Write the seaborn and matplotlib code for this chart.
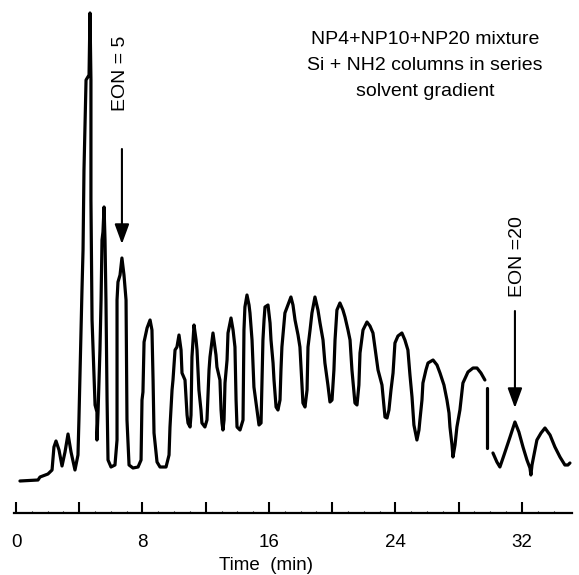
import numpy as np
import pandas as pd
import seaborn as sns
import matplotlib
matplotlib.use("Agg")
import matplotlib.pyplot as plt

# chromatogram
# time in min, detector response in arbitrary units (0 = starting baseline)
time_main = [0.25, 1.39, 1.52, 2.02, 2.28, 2.40, 2.53, 2.72, 2.91, 3.10, 3.29, 3.48, 3.73, 3.92,
             3.98, 4.11, 4.17, 4.24, 4.30, 4.43, 4.62, 4.68, 4.74, 4.74, 4.81, 5.00, 5.12, 5.12,
             5.19, 5.31, 5.38, 5.44, 5.50, 5.57, 5.63, 5.69, 5.76, 5.82, 6.01, 6.26, 6.39, 6.39,
             6.45, 6.58, 6.70, 6.83, 6.96, 7.02, 7.15, 7.40, 7.72, 7.91, 7.97, 8.03, 8.10, 8.29,
             8.48, 8.60, 8.67, 8.73, 8.92, 9.11, 9.49, 9.68, 9.74, 9.87, 9.93, 10.06, 10.18, 10.31,
             10.44, 10.50, 10.69, 10.82, 10.88, 11.01, 11.07, 11.13, 11.20, 11.26, 11.39, 11.45,
             11.57, 11.70, 11.76, 11.95, 12.08, 12.21, 12.27, 12.46, 12.65, 12.71, 12.90, 12.97,
             13.03, 13.09, 13.16, 13.22, 13.35, 13.41, 13.60, 13.73, 13.85, 13.92, 13.98, 14.17,
             14.36, 14.42, 14.48, 14.61, 14.74, 14.80, 14.93, 15.05, 15.24, 15.37, 15.50, 15.56,
             15.62, 15.69, 15.75, 15.94, 16.07, 16.13, 16.26, 16.32, 16.45, 16.57, 16.70, 16.76,
             16.82, 17.01, 17.20, 17.39, 17.52, 17.65, 17.84, 17.96, 18.09, 18.15, 18.28, 18.41,
             18.47, 18.60, 18.72, 18.91, 19.10, 19.23, 19.42, 19.54, 19.73, 19.86, 19.99, 20.11,
             20.18, 20.30, 20.49, 20.68, 20.81, 21.00, 21.13, 21.25, 21.44, 21.57, 21.69, 21.76,
             21.95, 22.20, 22.39, 22.58, 22.77, 22.90, 23.15, 23.34, 23.47, 23.59, 23.72, 23.85,
             23.97, 24.16, 24.41, 24.60, 24.79, 24.92, 25.05, 25.17, 25.36, 25.49, 25.55, 25.68,
             25.74, 25.93, 26.06, 26.38, 26.63, 26.82, 27.07, 27.26, 27.39, 27.45, 27.58, 27.64,
             27.77, 27.89, 28.08, 28.27, 28.59, 28.91, 29.16, 29.41, 29.66]
resp_main = [0, 1, 4, 7, 11, 34, 40, 31, 15, 29, 47, 29, 11, 26,
             61, 151, 189, 231, 311, 401, 406, 468, 401, 281, 161, 76, 69, 41,
             69, 131, 181, 241, 249, 274, 241, 181, 81, 21, 14, 16, 41, 181,
             199, 206, 223, 206, 181, 61, 16, 13, 14, 21, 81, 89, 139, 153,
             161, 151, 101, 48, 19, 14, 14, 26, 54, 91, 101, 131, 134, 146,
             131, 108, 101, 66, 58, 54, 66, 124, 141, 156, 141, 131,
             91, 71, 58, 54, 61, 111, 124, 148, 126, 114, 101, 71,
             58, 51, 61, 98, 121, 148, 163, 151, 134, 81, 54, 51,
             61, 151, 174, 186, 176, 168, 141, 94, 71, 56, 58, 101,
             141, 161, 174, 176, 158, 141, 118, 101, 74, 71, 81, 111,
             134, 168, 176, 184, 176, 161, 146, 134, 96, 78, 74, 91,
             134, 151, 168, 184, 171, 158, 141, 118, 96, 79, 81, 111,
             141, 171, 178, 171, 164, 151, 141, 111, 78, 76, 96, 128,
             151, 159, 155, 148, 126, 111, 96, 64, 63, 71, 91, 108,
             138, 145, 148, 141, 131, 106, 84, 56, 41, 51, 61, 81,
             98, 111, 118, 121, 116, 108, 96, 81, 68, 54, 36, 24,
             36, 54, 71, 98, 109, 113, 113, 108, 101]
# short pen stroke after the break
time_gap = [29.79, 29.79]
resp_gap = [93, 33]
# last strokes, EON = 20 region
time_tail = [30.17, 30.42, 30.61, 30.87, 31.25, 31.56, 31.81, 32.07, 32.32, 32.51, 32.57,
             32.64, 32.95, 33.21, 33.46, 33.78, 34.09, 34.41, 34.72, 34.91, 35.04]
resp_tail = [28, 19, 14, 26, 44, 59, 49, 34, 21, 13, 6,
             16, 41, 48, 53, 46, 34, 24, 16, 16, 18]

eon_labels = ["EON = 5", "EON =20"]
eon_times = [6.70, 31.56]
eon_peaks = [223, 59]

title_lines = ["NP4+NP10+NP20 mixture", "Si + NH2 columns in series", "solvent gradient"]

df = pd.concat([
    pd.DataFrame({"time": time_main, "resp": resp_main, "stroke": 0}),
    pd.DataFrame({"time": time_gap, "resp": resp_gap, "stroke": 1}),
    pd.DataFrame({"time": time_tail, "resp": resp_tail, "stroke": 2}),
])

sns.set_style("white")
plt.rcParams["font.family"] = ["Liberation Sans", "DejaVu Sans"]
plt.rcParams["text.color"] = "black"
plt.rcParams["axes.labelcolor"] = "black"

fig = plt.figure(figsize=(5.79, 5.75), dpi=100)
ax = fig.add_axes([14 / 579, 62 / 575, 558 / 579, 513 / 575])

sns.lineplot(data=df, x="time", y="resp", units="stroke", estimator=None, sort=False,
             color="black", lw=2.3, ax=ax)

ax.set_xlim(-0.127, 35.17)
ax.set_ylim(-32, 481)

for sp in ["left", "right", "top"]:
    ax.spines[sp].set_visible(False)
ax.spines["bottom"].set_linewidth(1.6)
ax.spines["bottom"].set_color("black")

ax.set_yticks([])
ax.set_ylabel("")
major = np.arange(0, 33, 4)
ax.set_xticks(major)
ax.set_xticklabels([str(v) if v % 8 == 0 else "" for v in major])
ax.set_xticks(np.arange(0, 35, 1), minor=True)
ax.tick_params(axis="x", which="major", direction="in", length=8, width=1.5,
               pad=15, labelsize=13.5, colors="black", bottom=True)
ax.tick_params(axis="x", which="minor", direction="in", length=1.5, width=0.8,
               colors="black", bottom=True)
ax.set_xlabel("Time  (min)", fontsize=13.5, color="black")
ax.xaxis.set_label_coords((266 - 14) / 558, -44 / 513)

# title block
for i, line in enumerate(title_lines):
    fig.text(425 / 579, 1 - (40 + 25.5 * i) / 575, line, ha="center", va="center",
             fontsize=14, color="black")

# EON arrows and labels
arrow_len = [95, 97]
text_pos = [(6.64, 408), (31.75, 224)]
for lab, t, pk, ln, (tx, ty) in zip(eon_labels, eon_times, eon_peaks, arrow_len, text_pos):
    ax.annotate("", xy=(t, pk + 14), xytext=(t, pk + 14 + ln),
                arrowprops=dict(arrowstyle="-|>,head_length=0.6,head_width=0.22",
                                color="black", lw=1.5, mutation_scale=20,
                                shrinkA=0, shrinkB=0))
    ax.text(tx, ty, lab, rotation=90, ha="center", va="center", fontsize=14, color="black")

fig.savefig("out.png", dpi=100)
